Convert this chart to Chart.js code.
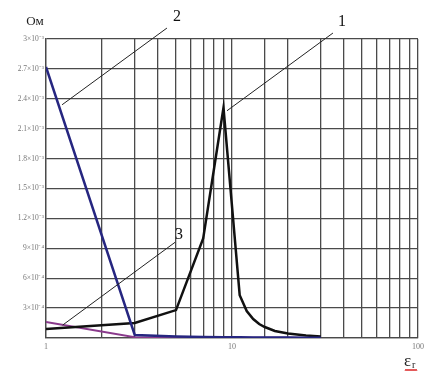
<!DOCTYPE html>
<html>
<head>
<meta charset="UTF-8">
<title>Ом vs εr</title>
<script src="https://cdn.jsdelivr.net/npm/chart.js"></script>
<style>
  html, body { margin: 0; padding: 0; background: #fff; }
  #wrap { width: 432px; height: 372px; position: relative; }
</style>
</head>
<body>
<div id="wrap"><canvas id="c" width="432" height="372"></canvas></div>
<script>
// eps_r values (x axis, log) and impedance values (Ом)
const eps1 = [1, 3, 5, 7, 9, 11, 12, 13, 14, 15, 17, 20, 25, 30];
const ohm1 = [9e-5, 1.5e-4, 2.8e-4, 1.0e-3, 2.31e-3, 4.3e-4, 2.7e-4, 1.9e-4, 1.4e-4, 1.1e-4, 7e-5, 4.5e-5, 2.5e-5, 1.5e-5];

const eps2 = [1, 3, 5, 7, 9, 11, 13, 15, 20, 25, 30];
const ohm2 = [2.72e-3, 3e-5, 1.5e-5, 1e-5, 8e-6, 7e-6, 6e-6, 5e-6, 4e-6, 3e-6, 3e-6];

const eps3 = [1, 3, 5, 7, 9, 11, 13, 15, 20, 25, 30];
const ohm3 = [1.6e-4, 8e-6, 5e-6, 4e-6, 3e-6, 3e-6, 2e-6, 2e-6, 2e-6, 1e-6, 1e-6];

const xTickValues = [1, 10, 100];
const xTickLabels = ['1', '10', '100'];
const yTickLabels = ['', '3×10⁻⁴', '6×10⁻⁴', '9×10⁻⁴', '1.2×10⁻³', '1.5×10⁻³',
                     '1.8×10⁻³', '2.1×10⁻³', '2.4×10⁻³', '2.7×10⁻³', '3×10⁻³'];

// curve numbers with leader lines, in data coordinates
const callouts = [
  { text: '1', label: [39, 3.17e-3], from: [34.9, 3.06e-3], to: [9.4, 2.28e-3] },
  { text: '2', label: [5.06, 3.22e-3], from: [4.47, 3.11e-3], to: [1.22, 2.34e-3] },
  { text: '3', label: [5.19, 1.04e-3], from: [4.94, 9.6e-4], to: [1.23, 1.3e-4] }
];

const toPts = (xs, ys) => xs.map((x, i) => ({ x: x, y: ys[i] }));

const extrasPlugin = {
  id: 'extras',
  afterDraw(chart) {
    const { ctx, scales } = chart;
    const sx = scales.x, sy = scales.y;
    ctx.save();
    // callouts
    ctx.strokeStyle = '#222';
    ctx.lineWidth = 1;
    ctx.fillStyle = '#111';
    ctx.font = '16px "Liberation Serif"';
    ctx.textAlign = 'center';
    ctx.textBaseline = 'middle';
    callouts.forEach(c => {
      ctx.beginPath();
      ctx.moveTo(sx.getPixelForValue(c.from[0]), sy.getPixelForValue(c.from[1]));
      ctx.lineTo(sx.getPixelForValue(c.to[0]), sy.getPixelForValue(c.to[1]));
      ctx.stroke();
      ctx.fillText(c.text, sx.getPixelForValue(c.label[0]), sy.getPixelForValue(c.label[1]));
    });
    // y unit
    ctx.font = '13px "Liberation Serif"';
    ctx.fillStyle = '#222';
    ctx.textBaseline = 'alphabetic';
    ctx.fillText('Ом', 35, 25);
    // x unit
    ctx.textAlign = 'left';
    ctx.font = '17px "Liberation Serif"';
    ctx.fillText('ε', 404, 366);
    ctx.font = '10px "Liberation Serif"';
    ctx.fillText('r', 412, 368);
    // red wavy underline
    ctx.strokeStyle = '#d33';
    ctx.lineWidth = 1;
    ctx.beginPath();
    for (let i = 0; i <= 12; i++) {
      const px = 405 + i;
      const py = 370 + (i % 2 ? -1 : 1);
      if (i === 0) ctx.moveTo(px, py); else ctx.lineTo(px, py);
    }
    ctx.stroke();
    ctx.restore();
  }
};

new Chart(document.getElementById('c').getContext('2d'), {
  type: 'line',
  data: {
    datasets: [
      { label: '2', data: toPts(eps2, ohm2), borderColor: '#262680', borderWidth: 2.5, pointRadius: 0, tension: 0 },
      { label: '1', data: toPts(eps1, ohm1), borderColor: '#111', borderWidth: 2.5, pointRadius: 0, tension: 0 },
      { label: '3', data: toPts(eps3, ohm3), borderColor: '#8a3a8c', borderWidth: 2, pointRadius: 0, tension: 0 }
    ]
  },
  options: {
    animation: false,
    responsive: false,
    layout: { padding: { left: 0, right: 14, top: 39, bottom: 0 } },
    plugins: { legend: { display: false }, tooltip: { enabled: false } },
    scales: {
      x: {
        type: 'logarithmic',
        min: 1, max: 100,
        afterFit(s) { s.height = 34; },
        grid: { color: '#4a4a4a', lineWidth: 1.3, drawTicks: false },
        border: { color: '#4a4a4a', width: 1.3 },
        ticks: {
          autoSkip: false, maxRotation: 0, padding: 4,
          color: '#777',
          font: { family: 'Liberation Serif', size: 8 },
          callback(v) {
            const i = xTickValues.indexOf(v);
            return i >= 0 ? xTickLabels[i] : '';
          }
        }
      },
      y: {
        type: 'linear',
        min: 0, max: 0.003,
        afterFit(s) { s.width = 46; },
        grid: { color: '#4a4a4a', lineWidth: 1.3, drawTicks: false },
        border: { color: '#4a4a4a', width: 1.3 },
        ticks: {
          stepSize: 0.0003, padding: 2,
          color: '#777',
          font: { family: 'Liberation Serif', size: 7.5 },
          callback(v) {
            return yTickLabels[Math.round(v / 0.0003)] || '';
          }
        }
      }
    }
  },
  plugins: [extrasPlugin]
});
</script>
</body>
</html>
